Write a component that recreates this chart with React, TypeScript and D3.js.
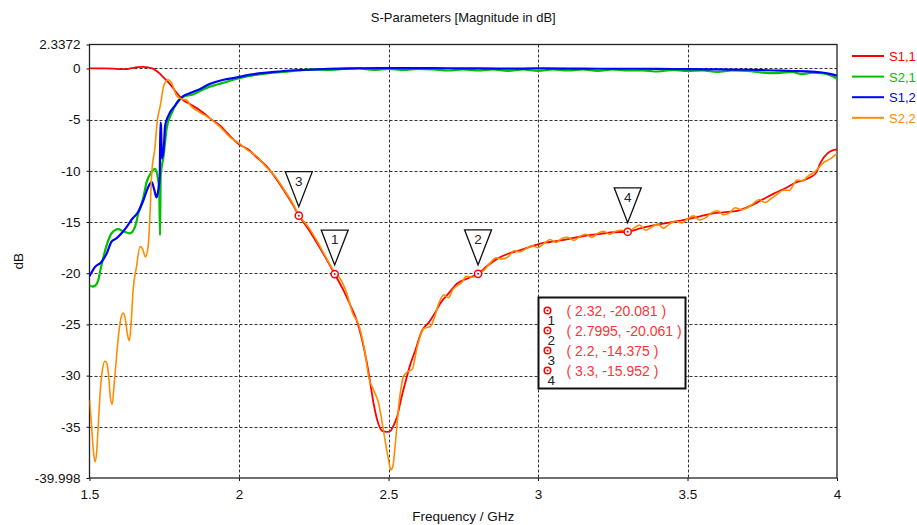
import React, { useEffect, useRef } from 'react'
import * as d3 from 'd3'

// S-parameter traces, [frequency GHz, magnitude dB]
const s11: [number, number][] = [
  [1.5, 0], [1.55, 0], [1.58, -0.02], [1.6, -0.06], [1.62, -0.06], [1.64, 0.02], [1.66, 0.12], [1.68, 0.15],
  [1.695, 0.1], [1.71, 0], [1.722, -0.2], [1.737, -0.55], [1.75, -0.95], [1.764, -1.36], [1.787, -2.2],
  [1.809, -3.0], [1.837, -3.5], [1.87, -4.1], [1.904, -4.9], [1.937, -5.6], [1.96, -6.3], [1.98, -6.9],
  [2.0, -7.4], [2.03, -7.9], [2.06, -8.7], [2.09, -9.5], [2.12, -10.6], [2.15, -11.9], [2.18, -13.3],
  [2.2, -14.375], [2.23, -15.6], [2.26, -17.0], [2.29, -18.5], [2.32, -20.081], [2.35, -21.7], [2.375, -23.3],
  [2.395, -24.7], [2.41, -26.3], [2.428, -28.8], [2.44, -30.9], [2.45, -32.7], [2.465, -34.6], [2.479, -35.4],
  [2.495, -35.5], [2.506, -35.4], [2.518, -34.8], [2.529, -34.0], [2.542, -32.3], [2.556, -30.7], [2.572, -29.0],
  [2.59, -27.5], [2.612, -25.6], [2.635, -24.8], [2.655, -23.9], [2.674, -22.9], [2.7, -22.0], [2.73, -21.0],
  [2.765, -20.5], [2.7995, -20.061], [2.83, -19.3], [2.863, -18.6], [2.9, -18.1], [2.941, -17.75], [2.975, -17.4],
  [3.008, -17.1], [3.04, -16.95], [3.075, -16.8], [3.12, -16.55], [3.165, -16.3], [3.21, -16.15], [3.255, -16.0],
  [3.3, -15.952], [3.345, -15.6], [3.39, -15.3], [3.44, -15.05], [3.49, -14.8], [3.535, -14.5], [3.577, -14.2],
  [3.62, -14.05], [3.667, -13.9], [3.705, -13.5], [3.745, -12.9], [3.79, -12.2], [3.834, -11.6], [3.865, -11.1],
  [3.89, -10.9], [3.912, -10.6], [3.93, -10.2], [3.945, -9.2], [3.968, -8.3], [3.985, -8.0], [4.0, -7.9]
]

const s21: [number, number][] = [
  [1.5, -21.2], [1.51, -21.3], [1.52, -21.2], [1.529, -20.7], [1.54, -19.2], [1.557, -17.3], [1.574, -16.1],
  [1.596, -15.7], [1.613, -15.9], [1.635, -16.1], [1.652, -15.5], [1.663, -14.2], [1.68, -12.6], [1.691, -11.1],
  [1.708, -10.1], [1.719, -9.8], [1.728, -10.6], [1.733, -11.9], [1.736, -16.3], [1.738, -10.5], [1.747, -8.7],
  [1.759, -5.7], [1.776, -4.3], [1.798, -3.1], [1.82, -2.7], [1.84, -2.6], [1.87, -2.2], [1.9, -1.8], [1.93, -1.55],
  [1.96, -1.3], [2.0, -0.95], [2.05, -0.65], [2.1, -0.45], [2.15, -0.35], [2.2, -0.2], [2.25, -0.1], [2.3, -0.15],
  [2.35, -0.05], [2.4, 0], [2.45, -0.15], [2.5, -0.05], [2.55, -0.15], [2.6, -0.05], [2.65, -0.1], [2.7, -0.2],
  [2.75, -0.1], [2.8, -0.2], [2.85, -0.1], [2.9, -0.25], [2.95, -0.1], [3.0, -0.25], [3.05, -0.1], [3.1, -0.2],
  [3.15, -0.1], [3.2, -0.25], [3.25, -0.1], [3.3, -0.2], [3.35, -0.2], [3.4, -0.3], [3.45, -0.15], [3.5, -0.25],
  [3.55, -0.2], [3.6, -0.35], [3.65, -0.2], [3.7, -0.25], [3.75, -0.4], [3.8, -0.45], [3.85, -0.35], [3.88, -0.55],
  [3.92, -0.4], [3.95, -0.45], [3.98, -0.7], [4.0, -1.0]
]

const s12: [number, number][] = [
  [1.5, -20.3], [1.518, -19.4], [1.54, -18.9], [1.557, -18.1], [1.574, -16.9], [1.59, -16.6], [1.607, -16.1],
  [1.624, -15.5], [1.64, -14.8], [1.663, -14.0], [1.68, -12.9], [1.696, -11.6], [1.708, -11.1], [1.717, -11.9],
  [1.724, -12.6], [1.73, -11.9], [1.735, -10.5], [1.737, -5.3], [1.739, -5.5], [1.742, -8.8], [1.748, -7.9],
  [1.753, -5.6], [1.764, -4.6], [1.787, -3.6], [1.809, -2.8], [1.837, -2.4], [1.87, -2.0], [1.904, -1.5],
  [1.948, -1.1], [1.993, -0.88], [2.038, -0.6], [2.103, -0.39], [2.17, -0.2], [2.235, -0.13], [2.3, -0.03],
  [2.4, 0.02], [2.5, 0.04], [2.6, 0.03], [2.7, 0.02], [2.8, 0], [2.9, -0.02], [3.0, 0], [3.1, -0.02], [3.2, -0.03],
  [3.3, -0.03], [3.4, -0.05], [3.5, -0.06], [3.6, -0.1], [3.7, -0.13], [3.79, -0.2], [3.85, -0.25], [3.9, -0.28],
  [3.95, -0.4], [3.98, -0.55], [4.0, -0.7]
]

const s22: [number, number][] = [
  [1.5, -32.4], [1.506, -34.5], [1.512, -37.0], [1.518, -38.4], [1.523, -37.8], [1.529, -35.0], [1.536, -31.5],
  [1.544, -29.3], [1.551, -28.6], [1.558, -28.8], [1.564, -30.0], [1.57, -32.2], [1.576, -32.8], [1.582, -31.0],
  [1.59, -28.3], [1.598, -25.8], [1.606, -24.3], [1.613, -23.9], [1.62, -24.5], [1.627, -26.0], [1.633, -26.6],
  [1.639, -25.0], [1.646, -21.6], [1.657, -19.4], [1.669, -17.4], [1.677, -17.6], [1.687, -18.4], [1.696, -17.4],
  [1.702, -14.5], [1.708, -10.3], [1.719, -7.7], [1.726, -5.3], [1.737, -3.6], [1.748, -1.7], [1.757, -1.2],
  [1.764, -1.1], [1.776, -1.5], [1.792, -2.7], [1.809, -3.0], [1.826, -3.1], [1.837, -3.6], [1.87, -4.3],
  [1.904, -4.9], [1.94, -5.8], [1.97, -6.7], [2.0, -7.3], [2.03, -8.0], [2.06, -8.6], [2.09, -9.6], [2.12, -10.5],
  [2.15, -11.8], [2.18, -13.2], [2.2, -14.3], [2.23, -15.4], [2.26, -16.8], [2.29, -18.4], [2.32, -19.9],
  [2.34, -20.6], [2.36, -21.9], [2.38, -23.9], [2.4, -25.0], [2.42, -27.5], [2.435, -30.3], [2.45, -31.4],
  [2.467, -32.7], [2.48, -34.8], [2.49, -36.6], [2.5, -38.2], [2.508, -39.2], [2.515, -38.8], [2.523, -36.6],
  [2.534, -33.0], [2.543, -31.0], [2.55, -30.1], [2.565, -29.6], [2.579, -29.4], [2.596, -27.2], [2.618, -25.4],
  [2.64, -25.2], [2.655, -24.2], [2.67, -22.8], [2.685, -22.1], [2.7, -22.4], [2.715, -21.6], [2.73, -21.2],
  [2.745, -20.9], [2.76, -20.3], [2.78, -20.4], [2.8, -20.1], [2.82, -19.7], [2.84, -19.0], [2.86, -18.5],
  [2.88, -18.6], [2.9, -18.4], [2.92, -17.8], [2.94, -17.9], [2.96, -17.6], [2.98, -17.3], [3.0, -17.5],
  [3.02, -17.1], [3.04, -16.7], [3.06, -17.0], [3.08, -16.6], [3.1, -16.5], [3.12, -16.8], [3.14, -16.4],
  [3.16, -16.2], [3.18, -16.5], [3.2, -16.1], [3.22, -15.9], [3.24, -16.2], [3.26, -15.9], [3.28, -15.8],
  [3.3, -16.0], [3.32, -15.6], [3.34, -15.3], [3.36, -15.8], [3.38, -15.5], [3.4, -15.2], [3.42, -15.6],
  [3.44, -15.2], [3.46, -14.9], [3.48, -15.1], [3.5, -14.7], [3.52, -14.4], [3.54, -14.8], [3.56, -14.6],
  [3.58, -14.1], [3.6, -13.9], [3.62, -14.3], [3.64, -14.1], [3.66, -13.6], [3.68, -13.8], [3.7, -13.6],
  [3.72, -13.2], [3.74, -12.8], [3.76, -13.1], [3.78, -12.7], [3.8, -12.3], [3.82, -11.9], [3.84, -11.9],
  [3.867, -10.9], [3.885, -11.0], [3.9, -10.6], [3.929, -10.0], [3.957, -9.15], [3.979, -8.8], [4.0, -8.3]
]

const seriesNames = ['S1,1', 'S2,1', 'S1,2', 'S2,2']
const seriesColors = ['#ff0000', '#00c000', '#0000ff', '#ff8c00']
const seriesWidths = [1.8, 2.2, 2.2, 1.6]
const seriesData = [s11, s21, s12, s22]

// markers: id, frequency, dB
const markers = [
  { id: 1, f: 2.32, db: -20.081, label: '( 2.32, -20.081 )' },
  { id: 2, f: 2.7995, db: -20.061, label: '( 2.7995, -20.061 )' },
  { id: 3, f: 2.2, db: -14.375, label: '( 2.2, -14.375 )' },
  { id: 4, f: 3.3, db: -15.952, label: '( 3.3, -15.952 )' }
]

const xTicks = [1.5, 2, 2.5, 3, 3.5, 4]
const yTicks = [2.3372, 0, -5, -10, -15, -20, -25, -30, -35, -39.998]
const yGrid = [0, -5, -10, -15, -20, -25, -30, -35]
const xGrid = [2, 2.5, 3, 3.5]

const W = 917
const H = 525
const FONT = '"Liberation Sans", Arial, sans-serif'

export default function App() {
  const ref = useRef<SVGSVGElement>(null)

  useEffect(() => {
    const svg = d3.select(ref.current)
    svg.selectAll('*').remove()

    const left = 89.5, right = 837, top = 44.5, bottom = 478
    const x = d3.scaleLinear().domain([1.5, 4]).range([left, right])
    const y = d3.scaleLinear().domain([-39.998, 2.3372]).range([bottom, top])

    svg.append('rect').attr('width', W).attr('height', H).attr('fill', '#fff')

    // title
    svg.append('text').attr('x', (left + right) / 2).attr('y', 22)
      .attr('text-anchor', 'middle').attr('font-size', 13).attr('fill', '#111')
      .text('S-Parameters [Magnitude in dB]')

    // grid
    const grid = svg.append('g').attr('stroke', '#333').attr('stroke-width', 1).attr('stroke-dasharray', '3,2')
    grid.selectAll('.hg').data(yGrid).enter().append('line')
      .attr('x1', left).attr('x2', right)
      .attr('y1', d => Math.round(y(d)) + 0.5).attr('y2', d => Math.round(y(d)) + 0.5)
    grid.selectAll('.vg').data(xGrid).enter().append('line')
      .attr('y1', top).attr('y2', bottom)
      .attr('x1', d => Math.round(x(d)) + 0.5).attr('x2', d => Math.round(x(d)) + 0.5)

    // axes
    const yAxis = d3.axisLeft(y).tickValues(yTicks).tickSize(3).tickPadding(6)
      .tickFormat(d => String(d))
    const xAxis = d3.axisBottom(x).tickValues(xTicks).tickSize(3).tickPadding(8)
      .tickFormat(d => String(d))
    const ya = svg.append('g').attr('transform', `translate(${left},0)`).call(yAxis)
    const xa = svg.append('g').attr('transform', `translate(0,${bottom})`).call(xAxis)
    ;[ya, xa].forEach(a => {
      a.select('.domain').remove()
      a.selectAll('text').attr('font-family', FONT).attr('font-size', 13.5).attr('fill', '#111')
      a.selectAll('line').attr('stroke', '#111')
    })

    // frame
    svg.append('rect').attr('x', left).attr('y', top).attr('width', right - left).attr('height', bottom - top)
      .attr('fill', 'none').attr('stroke', '#222').attr('stroke-width', 1.3)

    // axis labels
    svg.append('text').attr('x', (left + right) / 2).attr('y', 521).attr('text-anchor', 'middle')
      .attr('font-size', 13.5).attr('fill', '#111').text('Frequency / GHz')
    svg.append('text').attr('transform', `translate(23,${(top + bottom) / 2}) rotate(-90)`)
      .attr('text-anchor', 'middle').attr('font-size', 13.5).attr('fill', '#111').text('dB')

    // traces
    svg.append('clipPath').attr('id', 'plotclip').append('rect')
      .attr('x', left).attr('y', top).attr('width', right - left).attr('height', bottom - top)
    const line = d3.line<[number, number]>().x(d => x(d[0])).y(d => y(d[1])).curve(d3.curveMonotoneX)
    const traces = svg.append('g').attr('clip-path', 'url(#plotclip)')
    seriesData.forEach((data, i) => {
      traces.append('path').datum(data).attr('d', line).attr('fill', 'none')
        .attr('stroke', seriesColors[i]).attr('stroke-width', seriesWidths[i]).attr('stroke-linejoin', 'round')
    })

    // marker labels and points
    const mk = svg.append('g')
    markers.forEach(m => {
      const mx = x(m.f), my = y(m.db)
      const apex = my - 9, tTop = my - 44
      mk.append('path')
        .attr('d', `M${mx - 13.5},${tTop}L${mx + 13.5},${tTop}L${mx},${apex}Z`)
        .attr('fill', '#fff').attr('stroke', '#111').attr('stroke-width', 1.3)
      mk.append('text').attr('x', mx).attr('y', tTop + 14).attr('text-anchor', 'middle')
        .attr('font-size', 13.5).attr('fill', '#222').text(m.id)
      mk.append('circle').attr('cx', mx).attr('cy', my).attr('r', 3.6)
        .attr('fill', '#fff').attr('stroke', '#ff0000').attr('stroke-width', 1.5)
      mk.append('circle').attr('cx', mx).attr('cy', my).attr('r', 1).attr('fill', '#ff0000')
    })

    // marker table
    const bx = 538.5, by = 297.5
    svg.append('rect').attr('x', bx).attr('y', by).attr('width', 147).attr('height', 91)
      .attr('fill', '#fff').attr('stroke', '#111').attr('stroke-width', 2)
    markers.forEach((m, i) => {
      const cy = by + 13 + i * 20
      svg.append('circle').attr('cx', bx + 9).attr('cy', cy).attr('r', 3.3)
        .attr('fill', '#fff').attr('stroke', '#ff0000').attr('stroke-width', 1.5)
      svg.append('circle').attr('cx', bx + 9).attr('cy', cy).attr('r', 1).attr('fill', '#ff0000')
      svg.append('text').attr('x', bx + 9).attr('y', cy + 14).attr('font-size', 13.5)
        .attr('fill', '#222').text(m.id)
      svg.append('text').attr('x', bx + 28).attr('y', cy + 5).attr('font-size', 14)
        .attr('fill', '#ff3333').text(m.label)
    })

    // legend
    const lg = svg.append('g')
    seriesNames.forEach((name, i) => {
      const ly = 56 + i * 20.6
      lg.append('line').attr('x1', 852).attr('x2', 884).attr('y1', ly).attr('y2', ly)
        .attr('stroke', seriesColors[i]).attr('stroke-width', 2)
      lg.append('text').attr('x', 889).attr('y', ly + 5).attr('font-size', 13)
        .attr('fill', seriesColors[i]).text(name)
    })
  }, [])

  return (
    <svg ref={ref} width={W} height={H} fontFamily={FONT}
      style={{ position: 'absolute', left: 0, top: 0 }} />
  )
}
